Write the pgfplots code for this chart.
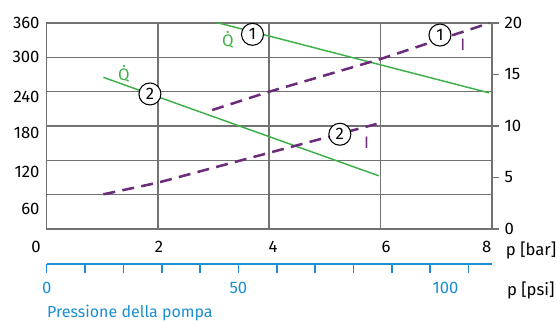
\documentclass[border=0pt]{standalone}
\usepackage{fontspec}
\setmainfont{Fira Sans}
\usepackage{pgfplots}
\pgfplotsset{compat=1.18}

\definecolor{qgreen}{HTML}{3DB049}
\definecolor{ipurple}{HTML}{6B2C7A}
\definecolor{psiblue}{HTML}{1B8FD2}
\definecolor{gridgray}{HTML}{727272}

\begin{document}
\fontsize{12.5}{15}\selectfont
\begin{tikzpicture}
% left axis: flow (Q)
\begin{axis}[
  name=main,
  scale only axis,
  width=333.75pt, height=154.5pt,
  xmin=0, xmax=8, ymin=0, ymax=360,
  axis line style={gridgray, line width=1.2pt},
  xtick={2,4,6}, xticklabels={},
  ytick={60,120,...,300}, yticklabels={},
  major tick length=0pt,
  grid=major,
  grid style={gridgray, line width=1.2pt},
  extra y ticks={35,99.6,167.8,230.7,300.6,360},
  extra y tick labels={60,120,180,240,300,360},
  extra y tick style={grid=none, major tick length=0pt},
  extra x ticks={2.02,4.07,6.1,7.91},
  extra x tick labels={2,4,6,8},
  extra x tick style={grid=none, major tick length=0pt},
  xticklabel style={yshift=-5pt},
  yticklabel style={xshift=-1pt},
  ticklabel style={font=\fontsize{12.5}{15}\selectfont},
  clip=false,
]
\addplot[qgreen, line width=1.1pt] coordinates {(3.05,361) (7.95,238)};
\addplot[qgreen, line width=1.1pt] coordinates {(1.02,265) (5.97,93)};

\node[qgreen] at (axis cs:3.257,330) {\.{Q}};
\node[qgreen] at (axis cs:1.389,271) {\.{Q}};
\node[ipurple] at (axis cs:7.48,321.5) {I};
\node[ipurple] at (axis cs:5.75,150.3) {I};

\node[anchor=north, yshift=-5pt] at (axis cs:-0.19,0) {0};
\node[anchor=north west, xshift=6.3pt, yshift=-5pt] at (axis cs:8,0) {p [bar]};
\end{axis}

% right axis: current (I)
\begin{axis}[
  scale only axis,
  width=333.75pt, height=154.5pt,
  xmin=0, xmax=8, ymin=0, ymax=20,
  axis y line*=right,
  axis x line=none,
  axis line style={gridgray, line width=1.2pt},
  ytick={0,5,...,20},
  tick align=outside,
  major tick length=5.25pt,
  tick style={gridgray, line width=1.2pt},
  /pgf/number format/assume math mode=true,
  ticklabel style={font=\fontsize{12.5}{15}\selectfont},
  clip=false,
]
\addplot[ipurple, line width=1.9pt, dash pattern=on 9pt off 5.5pt]
  coordinates {(2.975,11.55) (4,13.33) (6,16.5) (7.96,20.0)};
\addplot[ipurple, line width=1.9pt, dash pattern=on 9pt off 5.5pt]
  coordinates {(1.02,3.37) (2,4.5) (4,7.4) (5.93,10.2)};

\node[circle, draw=black, fill=white, line width=0.8pt, minimum size=16.5pt, inner sep=0pt]
  at (axis cs:3.70,18.9) {1};
\node[circle, draw=black, fill=white, line width=0.8pt, minimum size=16.5pt, inner sep=0pt]
  at (axis cs:7.07,18.83) {1};
\node[circle, draw=black, fill=white, line width=0.8pt, minimum size=16.5pt, inner sep=0pt]
  at (axis cs:1.856,13.11) {2};
\node[circle, draw=black, fill=white, line width=0.8pt, minimum size=16.5pt, inner sep=0pt]
  at (axis cs:5.27,9.2) {2};
\end{axis}

% pump pressure in psi
\begin{axis}[
  scale only axis,
  at={(0pt,-26.25pt)}, anchor=south west,
  width=333.75pt, height=1pt,
  xmin=0, xmax=116.03, ymin=0, ymax=1,
  axis x line=bottom, axis y line=none,
  axis line style={psiblue, line width=1.2pt, -},
  xtick={0,10,...,110}, xticklabels={},
  tick align=outside,
  major tick length=6.75pt,
  tick style={psiblue, line width=1.2pt},
  extra x ticks={0,50,104},
  extra x tick labels={0,50,100},
  extra x tick style={major tick length=0pt, xticklabel style={yshift=-9pt}},
  ticklabel style={psiblue, font=\fontsize{12.5}{15}\selectfont},
  clip=false,
]
\node[anchor=north west, yshift=-9pt] at (axis cs:118.5,0) {p [psi]};
\end{axis}
\node[psiblue, anchor=west, font=\fontsize{12}{14}\selectfont] at (-4pt,-63pt) {Pressione della pompa};

\pgfresetboundingbox
\path[use as bounding box] (-35pt,-68.25pt) rectangle (382.7pt,171.75pt);
\end{tikzpicture}
\end{document}
